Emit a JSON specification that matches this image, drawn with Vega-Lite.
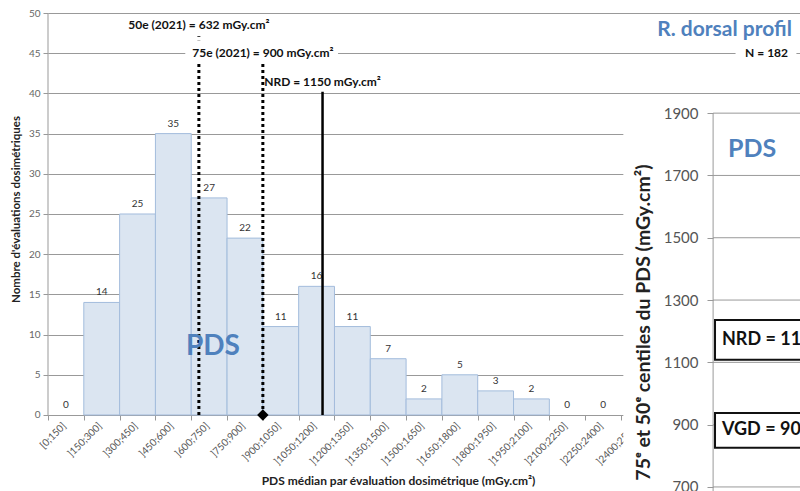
{
  "$schema": "https://vega.github.io/schema/vega-lite/v6.json",
  "width": 752,
  "height": 478,
  "autosize": {"type": "none"},
  "padding": {"left": 48, "top": 13, "right": 0, "bottom": 0},
  "background": "white",
  "config": {
    "view": {"stroke": null},
    "font": "Lato",
    "axis": {"labelFont": "Lato", "titleFont": "Lato"},
    "axisX": {"labelAngle": 315},
    "text": {"font": "Lato"}
  },
  "datasets": {
    "bins": [
      {"lo": 0, "hi": 150, "n": 0},
      {"lo": 150, "hi": 300, "n": 14},
      {"lo": 300, "hi": 450, "n": 25},
      {"lo": 450, "hi": 600, "n": 35},
      {"lo": 600, "hi": 750, "n": 27},
      {"lo": 750, "hi": 900, "n": 22},
      {"lo": 900, "hi": 1050, "n": 11},
      {"lo": 1050, "hi": 1200, "n": 16},
      {"lo": 1200, "hi": 1350, "n": 11},
      {"lo": 1350, "hi": 1500, "n": 7},
      {"lo": 1500, "hi": 1650, "n": 2},
      {"lo": 1650, "hi": 1800, "n": 5},
      {"lo": 1800, "hi": 1950, "n": 3},
      {"lo": 1950, "hi": 2100, "n": 2},
      {"lo": 2100, "hi": 2250, "n": 0},
      {"lo": 2250, "hi": 2400, "n": 0}
    ],
    "axisline": [{"x": 0, "y1": 0, "y2": 50}],
    "refs": [
      {"name": "50e", "x": 632, "y1": 0, "top": 47.1},
      {"name": "75e", "x": 900, "y1": 0, "top": 44}
    ],
    "nrd": [{"x": 1150, "y1": 0, "top": 40.2}],
    "diamond": [{"x": 900, "y": 0}],
    "bgs": [
      {"x1": 575, "x2": 1215, "y1": 43.9, "y2": 46.6},
      {"x1": 2880, "x2": 3135, "y1": 44, "y2": 46}
    ],
    "notes": [
      {"t": "50e (2021) = 632 mGy.cm²", "x": 632, "y": 48.5},
      {"t": "75e (2021) = 900 mGy.cm²", "x": 900, "y": 45},
      {"t": "NRD = 1150 mGy.cm²", "x": 1150, "y": 41.4},
      {"t": "N = 182", "x": 3010, "y": 45}
    ],
    "title": [{"t": "R. dorsal profil", "x": 2834, "y": 47.9}],
    "pdsleft": [{"t": "PDS", "x": 691, "y": 8.46}],
    "panel": [{"x1": 2410, "x2": 3150, "y1": 687, "y2": 1958}],
    "pdsgrid": [
      {"v": 700, "x1": 2786, "x2": 3150},
      {"v": 900, "x1": 2786, "x2": 3150},
      {"v": 1100, "x1": 2786, "x2": 3150},
      {"v": 1300, "x1": 2786, "x2": 3150},
      {"v": 1500, "x1": 2786, "x2": 3150},
      {"v": 1700, "x1": 2786, "x2": 3150},
      {"v": 1900, "x1": 2786, "x2": 3150}
    ],
    "pdsaxis": [{"x": 2786, "y1": 687, "y2": 1900}],
    "boxes": [
      {"label": "NRD = 1150", "lo": 1108, "hi": 1236, "x1": 2794, "x2": 3250, "tx": 2823},
      {"label": "VGD = 900", "lo": 826, "hi": 937, "x1": 2794, "x2": 3250, "tx": 2823}
    ],
    "pdsright": [{"t": "PDS", "x": 2848, "y": 1785}]
  },
  "layer": [
    {
      "data": {"name": "bins"},
      "transform": [{"filter": "datum.n > 0"}],
      "mark": {"type": "rect", "fill": "#dbe5f1", "stroke": "#a3bcdc", "strokeWidth": 1},
      "encoding": {
        "x": {
          "field": "lo", "type": "quantitative",
          "scale": {"domain": [0, 3150], "nice": false, "zero": false},
          "axis": {
            "values": [0, 150, 300, 450, 600, 750, 900, 1050, 1200, 1350, 1500, 1650, 1800, 1950, 2100, 2250, 2400],
            "labelExpr": "datum.value == 0 ? '[0;150]' : ']' + datum.value + ';' + (datum.value + 150) + ']'",
            "labelAngle": 315, "labelAlign": "right", "labelBaseline": "middle",
            "labelOffset": 16, "labelPadding": 4, "labelFontSize": 10, "labelColor": "#555",
            "labelOverlap": false, "labelBound": false, "labelFlush": false,
            "tickSize": 5, "tickColor": "#999", "domainColor": "#999",
            "offset": -76, "grid": false,
            "title": "PDS médian par évaluation dosimétrique (mGy.cm²)",
            "titleFontSize": 12, "titleFontWeight": "bold", "titleColor": "#222",
            "titleX": 350, "titleY": 65, "titleBaseline": "middle"
          }
        },
        "x2": {"field": "hi"},
        "y": {
          "field": "n", "type": "quantitative",
          "scale": {"domain": [-9.453, 50], "nice": false, "zero": false},
          "axis": {
            "values": [0, 5, 10, 15, 20, 25, 30, 35, 40, 45, 50],
            "grid": true, "gridColor": "#999", "domain": false,
            "tickSize": 5, "tickColor": "#999",
            "labelFontSize": 10, "labelColor": "#666", "labelPadding": 3,
            "title": "Nombre d'évaluations dosimétriques",
            "titleFontSize": 11.5, "titleFontWeight": "bold", "titleColor": "#222",
            "titleX": -27, "titleY": 196
          }
        }
      }
    },
    {
      "data": {"name": "bins"},
      "transform": [{"calculate": "(datum.lo + datum.hi) / 2", "as": "mid"}],
      "mark": {"type": "text", "dy": -10, "fontSize": 10, "color": "#333"},
      "encoding": {
        "x": {"field": "mid", "type": "quantitative", "axis": null},
        "y": {"field": "n", "type": "quantitative", "axis": null, "scale": {"domain": [-9.453, 50], "nice": false, "zero": false}},
        "text": {"field": "n", "type": "quantitative"}
      }
    },
    {
      "data": {"name": "axisline"},
      "mark": {"type": "rule", "color": "#999", "strokeWidth": 1},
      "encoding": {
        "x": {"field": "x", "type": "quantitative", "axis": null},
        "y": {"field": "y1", "type": "quantitative", "axis": null, "scale": {"domain": [-9.453, 50], "nice": false, "zero": false}},
        "y2": {"field": "y2"}
      }
    },
    {
      "data": {"name": "refs"},
      "mark": {"type": "rule", "color": "#000", "strokeWidth": 3, "strokeDash": [3, 3]},
      "encoding": {
        "x": {"field": "x", "type": "quantitative", "axis": null},
        "y": {"field": "y1", "type": "quantitative", "axis": null, "scale": {"domain": [-9.453, 50], "nice": false, "zero": false}},
        "y2": {"field": "top"}
      }
    },
    {
      "data": {"name": "nrd"},
      "mark": {"type": "rule", "color": "#000", "strokeWidth": 2.5},
      "encoding": {
        "x": {"field": "x", "type": "quantitative", "axis": null},
        "y": {"field": "y1", "type": "quantitative", "axis": null, "scale": {"domain": [-9.453, 50], "nice": false, "zero": false}},
        "y2": {"field": "top"}
      }
    },
    {
      "data": {"name": "diamond"},
      "mark": {"type": "point", "shape": "diamond", "filled": true, "color": "#000", "size": 130, "opacity": 1},
      "encoding": {
        "x": {"field": "x", "type": "quantitative", "axis": null},
        "y": {"field": "y", "type": "quantitative", "axis": null, "scale": {"domain": [-9.453, 50], "nice": false, "zero": false}}
      }
    },
    {
      "data": {"name": "bgs"},
      "mark": {"type": "rect", "fill": "white"},
      "encoding": {
        "x": {"field": "x1", "type": "quantitative", "axis": null},
        "x2": {"field": "x2"},
        "y": {"field": "y1", "type": "quantitative", "axis": null, "scale": {"domain": [-9.453, 50], "nice": false, "zero": false}},
        "y2": {"field": "y2"}
      }
    },
    {
      "data": {"name": "notes"},
      "mark": {"type": "text", "fontSize": 12, "fontWeight": "bold", "color": "#111", "align": "center", "baseline": "middle"},
      "encoding": {
        "x": {"field": "x", "type": "quantitative", "axis": null},
        "y": {"field": "y", "type": "quantitative", "axis": null, "scale": {"domain": [-9.453, 50], "nice": false, "zero": false}},
        "text": {"field": "t", "type": "nominal"}
      }
    },
    {
      "data": {"name": "title"},
      "mark": {"type": "text", "fontSize": 21, "fontWeight": "bold", "color": "#4f81bd", "align": "center", "baseline": "middle"},
      "encoding": {
        "x": {"field": "x", "type": "quantitative", "axis": null},
        "y": {"field": "y", "type": "quantitative", "axis": null, "scale": {"domain": [-9.453, 50], "nice": false, "zero": false}},
        "text": {"field": "t", "type": "nominal"}
      }
    },
    {
      "data": {"name": "pdsleft"},
      "mark": {"type": "text", "fontSize": 28, "fontWeight": "bold", "color": "#4f81bd", "align": "center", "baseline": "middle"},
      "encoding": {
        "x": {"field": "x", "type": "quantitative", "axis": null},
        "y": {"field": "y", "type": "quantitative", "axis": null, "scale": {"domain": [-9.453, 50], "nice": false, "zero": false}},
        "text": {"field": "t", "type": "nominal"}
      }
    },
    {
      "data": {"name": "panel"},
      "mark": {"type": "rect", "fill": "white"},
      "encoding": {
        "x": {"field": "x1", "type": "quantitative", "axis": null},
        "x2": {"field": "x2"},
        "y": {
          "field": "y1", "type": "quantitative",
          "scale": {"domain": [687, 2221.5], "nice": false, "zero": false},
          "axis": {
            "orient": "left", "offset": -665, "zindex": 1,
            "values": [700, 900, 1100, 1300, 1500, 1700, 1900],
            "format": "d",
            "grid": false, "domain": false,
            "tickSize": 6, "tickColor": "#999",
            "labelFontSize": 15, "labelColor": "#555", "labelPadding": 9,
            "title": "75ᵉ et 50ᵉ centiles du PDS (mGy.cm²)",
            "titleFontSize": 19.5, "titleFontWeight": "bold", "titleColor": "#222",
            "titleX": -60, "titleY": 309
          }
        },
        "y2": {"field": "y2"}
      }
    },
    {
      "data": {"name": "pdsgrid"},
      "mark": {"type": "rule", "color": "#999", "strokeWidth": 1},
      "encoding": {
        "x": {"field": "x1", "type": "quantitative", "axis": null},
        "x2": {"field": "x2"},
        "y": {"field": "v", "type": "quantitative", "axis": null, "scale": {"domain": [687, 2221.5], "nice": false, "zero": false}}
      }
    },
    {
      "data": {"name": "pdsaxis"},
      "mark": {"type": "rule", "color": "#999", "strokeWidth": 1},
      "encoding": {
        "x": {"field": "x", "type": "quantitative", "axis": null},
        "y": {"field": "y1", "type": "quantitative", "axis": null, "scale": {"domain": [687, 2221.5], "nice": false, "zero": false}},
        "y2": {"field": "y2"}
      }
    },
    {
      "data": {"name": "boxes"},
      "mark": {"type": "rect", "fill": "white", "stroke": "#111", "strokeWidth": 2},
      "encoding": {
        "x": {"field": "x1", "type": "quantitative", "axis": null},
        "x2": {"field": "x2"},
        "y": {"field": "lo", "type": "quantitative", "axis": null, "scale": {"domain": [687, 2221.5], "nice": false, "zero": false}},
        "y2": {"field": "hi"}
      }
    },
    {
      "data": {"name": "boxes"},
      "transform": [{"calculate": "(datum.lo + datum.hi) / 2", "as": "mid"}],
      "mark": {"type": "text", "fontSize": 18, "fontWeight": "bold", "color": "#111", "align": "left", "baseline": "middle"},
      "encoding": {
        "x": {"field": "tx", "type": "quantitative", "axis": null},
        "y": {"field": "mid", "type": "quantitative", "axis": null, "scale": {"domain": [687, 2221.5], "nice": false, "zero": false}},
        "text": {"field": "label", "type": "nominal"}
      }
    },
    {
      "data": {"name": "pdsright"},
      "mark": {"type": "text", "fontSize": 25, "fontWeight": "bold", "color": "#4f81bd", "align": "left", "baseline": "middle"},
      "encoding": {
        "x": {"field": "x", "type": "quantitative", "axis": null},
        "y": {"field": "y", "type": "quantitative", "axis": null, "scale": {"domain": [687, 2221.5], "nice": false, "zero": false}},
        "text": {"field": "t", "type": "nominal"}
      }
    }
  ],
  "resolve": {"scale": {"y": "independent"}, "axis": {"x": "independent"}}
}
